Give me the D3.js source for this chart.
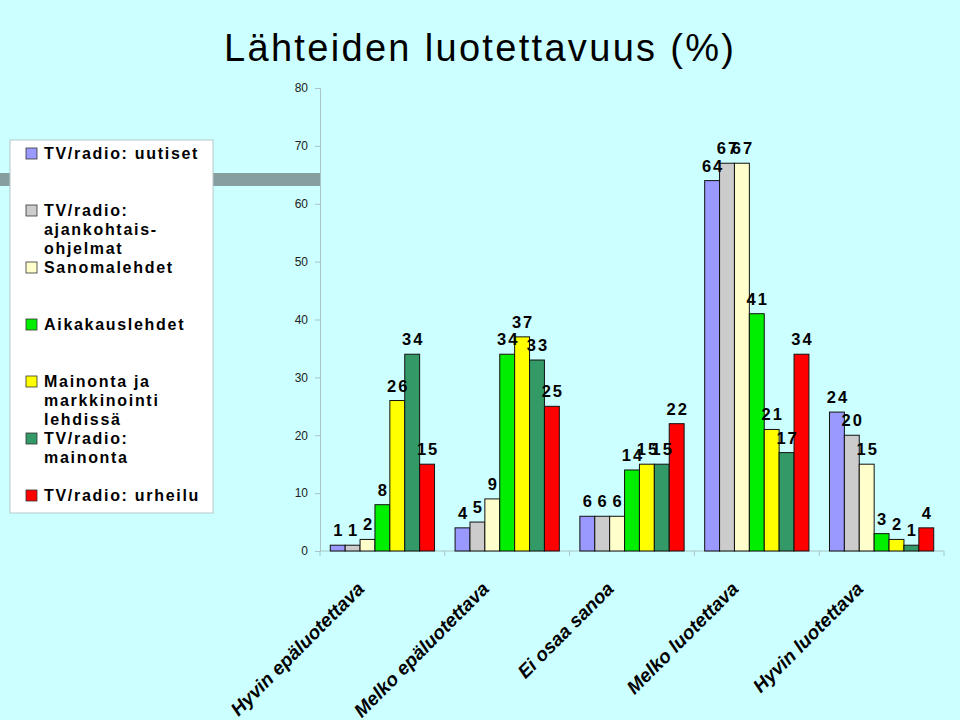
<!DOCTYPE html>
<html>
<head>
<meta charset="utf-8">
<script src="https://cdn.jsdelivr.net/npm/d3@7/dist/d3.min.js"></script>
<style>
  html, body { margin: 0; padding: 0; background: #ccffff; }
  svg { display: block; }
</style>
</head>
<body>
<svg id="chart" width="960" height="720"></svg>
<script>
const categories = ["Hyvin epäluotettava", "Melko epäluotettava", "Ei osaa sanoa", "Melko luotettava", "Hyvin luotettava"];
const seriesNames = ["TV/radio: uutiset", "TV/radio: ajankohtais-ohjelmat", "Sanomalehdet", "Aikakauslehdet", "Mainonta ja markkinointi lehdissä", "TV/radio: mainonta", "TV/radio: urheilu"];
const legendLines = [["TV/radio: uutiset"], ["TV/radio:", "ajankohtais-", "ohjelmat"], ["Sanomalehdet"], ["Aikakauslehdet"], ["Mainonta ja", "markkinointi", "lehdissä"], ["TV/radio:", "mainonta"], ["TV/radio: urheilu"]];
const seriesColors = ["#9999ff", "#cccccc", "#ffffcc", "#00ee00", "#ffff00", "#339966", "#ff0000"];
const uutiset = [1, 4, 6, 64, 24];
const ajankohtais = [1, 5, 6, 67, 20];
const sanomalehdet = [2, 9, 6, 67, 15];
const aikakauslehdet = [8, 34, 14, 41, 3];
const mainontaLehdissa = [26, 37, 15, 21, 2];
const tvMainonta = [34, 33, 15, 17, 1];
const urheilu = [15, 25, 22, 34, 4];
const yTicks = [0, 10, 20, 30, 40, 50, 60, 70, 80];
const title = "Lähteiden luotettavuus (%)";

const seriesValues = [uutiset, ajankohtais, sanomalehdet, aikakauslehdet, mainontaLehdissa, tvMainonta, urheilu];

const svg = d3.select("#chart");
const FONT = "'Liberation Sans', Arial, sans-serif";

// background
svg.append("rect").attr("width", 960).attr("height", 720).attr("fill", "#ccffff");
// decorative gray band
svg.append("rect").attr("x", 0).attr("y", 173).attr("width", 320).attr("height", 13).attr("fill", "#879e9e");

// title
svg.append("text").attr("x", 224).attr("y", 61)
  .attr("font-family", FONT).attr("font-size", 38)
  .attr("textLength", 510).attr("lengthAdjust", "spacing")
  .attr("fill", "#000").text(title);

const x0 = d3.scaleBand().domain(categories).range([320, 944]).paddingInner(0).paddingOuter(0);
const x1 = d3.scaleBand().domain(seriesNames).range([0, x0.bandwidth()]).paddingInner(0).paddingOuter(0.69);
const y = d3.scaleLinear().domain([0, 80]).range([551, 88]);

// y axis
const yAxis = d3.axisLeft(y).tickValues(yTicks).tickSize(5).tickPadding(7);
const gy = svg.append("g").attr("transform", "translate(320,0)").call(yAxis);
gy.select(".domain").attr("stroke", "#a8c4c4");
gy.selectAll(".tick line").attr("stroke", "#a8c4c4");
gy.selectAll(".tick text").attr("font-family", FONT).attr("font-size", 12).attr("fill", "#222");

// x axis
const gx = svg.append("g").attr("transform", "translate(0,551)");
gx.append("line").attr("x1", 320).attr("x2", 944).attr("y1", 0).attr("y2", 0).attr("stroke", "#a8c4c4");
const bounds = categories.map(c => x0(c)).concat([x0(categories[categories.length - 1]) + x0.bandwidth()]);
gx.selectAll("line.tk").data(bounds).enter().append("line").attr("class", "tk")
  .attr("x1", d => d).attr("x2", d => d).attr("y1", 0).attr("y2", 5).attr("stroke", "#a8c4c4");

// bars
const groups = svg.append("g").selectAll("g").data(categories).enter().append("g")
  .attr("transform", c => `translate(${x0(c)},0)`);

groups.each(function(c, ci) {
  const g = d3.select(this);
  seriesNames.forEach((s, si) => {
    const v = seriesValues[si][ci];
    g.append("rect")
      .attr("x", x1(s)).attr("y", y(v))
      .attr("width", x1.bandwidth()).attr("height", y(0) - y(v))
      .attr("fill", seriesColors[si]).attr("stroke", "#111").attr("stroke-width", 1);
  });
});
groups.each(function(c, ci) {
  const g = d3.select(this);
  seriesNames.forEach((s, si) => {
    const v = seriesValues[si][ci];
    g.append("text")
      .attr("x", x1(s) + x1.bandwidth() / 2 + 1).attr("y", y(v) - 9)
      .attr("text-anchor", "middle")
      .attr("font-family", FONT).attr("font-weight", "bold").attr("font-size", 16.5)
      .attr("letter-spacing", 2).attr("fill", "#000")
      .text(v);
  });
});

// category labels
svg.append("g").selectAll("text").data(categories).enter().append("text")
  .attr("transform", c => `translate(${x0(c) + x0.bandwidth() / 2 - 17},590) rotate(-45)`)
  .attr("text-anchor", "end")
  .attr("font-family", FONT).attr("font-weight", "bold").attr("font-style", "italic")
  .attr("font-size", 19).attr("fill", "#000")
  .text(c => c);

// legend
const lg = svg.append("g");
lg.append("rect").attr("x", 10).attr("y", 140).attr("width", 203).attr("height", 373)
  .attr("fill", "#ffffff").attr("stroke", "#b4c8c8").attr("stroke-width", 1);
seriesNames.forEach((s, i) => {
  const cy = 153 + i * 57;
  lg.append("rect").attr("x", 26).attr("y", cy - 5).attr("width", 11).attr("height", 11)
    .attr("fill", seriesColors[i]).attr("stroke", "#333").attr("stroke-width", 0.8);
  const t = lg.append("text").attr("font-family", FONT).attr("font-weight", "bold")
    .attr("font-size", 16).attr("letter-spacing", 1.7).attr("fill", "#000");
  legendLines[i].forEach((line, li) => {
    t.append("tspan").attr("x", 44).attr("y", cy + 6 + li * 19).text(line);
  });
});
</script>
</body>
</html>
